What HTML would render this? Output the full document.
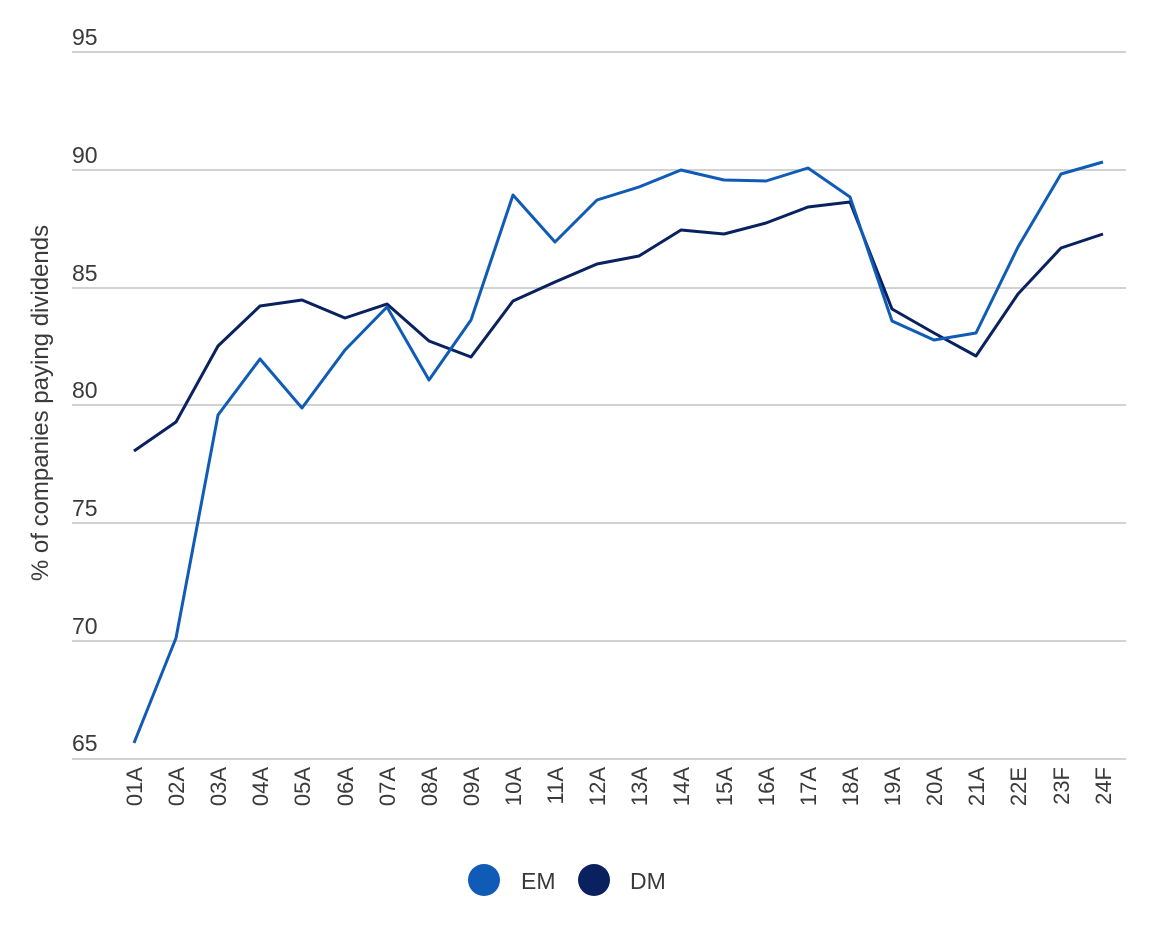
<!DOCTYPE html>
<html><head><meta charset="utf-8"><style>
body{margin:0;background:#fff;}
svg{display:block;font-family:"Liberation Sans",sans-serif;}
</style></head><body>
<svg width="1164" height="940" viewBox="0 0 1164 940">
<g stroke="#c4c4c4" stroke-width="1.5">
<line x1="72" y1="52" x2="1126" y2="52"/>
<line x1="72" y1="170" x2="1126" y2="170"/>
<line x1="72" y1="288" x2="1126" y2="288"/>
<line x1="72" y1="405" x2="1126" y2="405"/>
<line x1="72" y1="523" x2="1126" y2="523"/>
<line x1="72" y1="641" x2="1126" y2="641"/>
<line x1="72" y1="759" x2="1126" y2="759"/>
</g>
<g fill="#3a3a3a" font-size="23">
<text x="72" y="45">95</text>
<text x="72" y="163">90</text>
<text x="72" y="281">85</text>
<text x="72" y="398">80</text>
<text x="72" y="516">75</text>
<text x="72" y="634">70</text>
<text x="72" y="751">65</text>
</g>
<text transform="translate(48,403) rotate(-90)" text-anchor="middle" font-size="24" fill="#3a3a3a">% of companies paying dividends</text>
<g fill="#3a3a3a" font-size="22" text-anchor="end">
<text transform="translate(142,767) rotate(-90)">01A</text>
<text transform="translate(184,767) rotate(-90)">02A</text>
<text transform="translate(226,767) rotate(-90)">03A</text>
<text transform="translate(268,767) rotate(-90)">04A</text>
<text transform="translate(310,767) rotate(-90)">05A</text>
<text transform="translate(353,767) rotate(-90)">06A</text>
<text transform="translate(395,767) rotate(-90)">07A</text>
<text transform="translate(437,767) rotate(-90)">08A</text>
<text transform="translate(479,767) rotate(-90)">09A</text>
<text transform="translate(521,767) rotate(-90)">10A</text>
<text transform="translate(563,767) rotate(-90)">11A</text>
<text transform="translate(605,767) rotate(-90)">12A</text>
<text transform="translate(647,767) rotate(-90)">13A</text>
<text transform="translate(689,767) rotate(-90)">14A</text>
<text transform="translate(732,767) rotate(-90)">15A</text>
<text transform="translate(774,767) rotate(-90)">16A</text>
<text transform="translate(816,767) rotate(-90)">17A</text>
<text transform="translate(858,767) rotate(-90)">18A</text>
<text transform="translate(900,767) rotate(-90)">19A</text>
<text transform="translate(942,767) rotate(-90)">20A</text>
<text transform="translate(984,767) rotate(-90)">21A</text>
<text transform="translate(1026,767) rotate(-90)">22E</text>
<text transform="translate(1069,767) rotate(-90)">23F</text>
<text transform="translate(1111,767) rotate(-90)">24F</text>
</g>
<polyline fill="none" stroke="#0a2160" stroke-width="3" stroke-linejoin="round" points="134,451 176,422 218,346 260,306 302,300 345,318 387,304 429,341 471,357 513,301 555,282 597,264 639,256 681,230 724,234 766,223 808,207 850,202 892,309 934,333 976,356 1018,294 1061,248 1103,234"/>
<polyline fill="none" stroke="#0f5bb5" stroke-width="3" stroke-linejoin="round" points="134,743 176,638 218,415 260,359 302,408 345,350 387,307 429,380 471,320 513,195 555,242 597,200 639,187 681,170 724,180 766,181 808,168 850,197 892,321 934,340 976,333 1018,247 1061,174 1103,162"/>
<circle cx="484" cy="880" r="16" fill="#0f5bb5"/>
<circle cx="594" cy="880" r="16" fill="#0a2160"/>
<g fill="#3a3a3a" font-size="23"><text x="521" y="889">EM</text><text x="630" y="889">DM</text></g>
</svg>
</body></html>
